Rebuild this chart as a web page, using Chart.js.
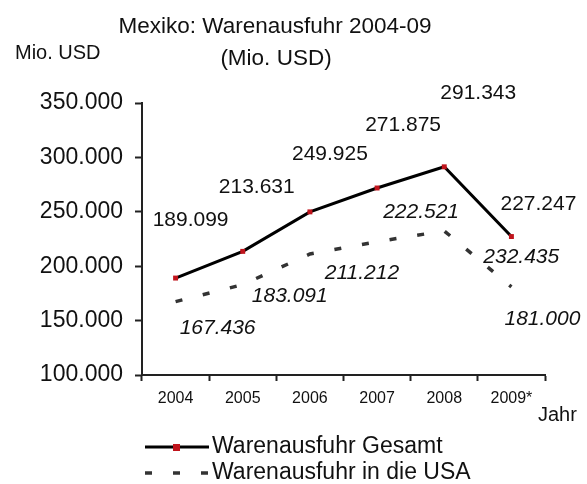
<!DOCTYPE html>
<html>
<head>
<meta charset="utf-8">
<script src="https://cdn.jsdelivr.net/npm/chart.js@4.4.0/dist/chart.umd.min.js"></script>
<style>
  html, body { margin: 0; padding: 0; background: #fff; }
</style>
</head>
<body>
<canvas id="myChart" width="587" height="484"></canvas>
<script>
'use strict';
const years = ['2004', '2005', '2006', '2007', '2008', '2009*'];
const gesamt = [189099, 213631, 249925, 271875, 291343, 227247];
const usa = [167436, 183091, 211212, 222521, 232435, 181000];
const yTicks = [100000, 150000, 200000, 250000, 300000, 350000];
const titleLines = ['Mexiko: Warenausfuhr 2004-09', '(Mio. USD)'];
const seriesNames = ['Warenausfuhr Gesamt', 'Warenausfuhr in die USA'];
const yUnit = 'Mio. USD';
const xUnit = 'Jahr';

// where the value labels sit relative to their point (px)
const gesamtLabelOffset = [[15, -58], [14, -64], [20, -58], [26, -63], [34, -74], [27, -32]];
const usaLabelOffset = [[42, 27], [47, 12], [52, 19], [44, -30], [77, 26], [31, 32]];

const FONT = '"Liberation Sans", Arial, sans-serif';
const RED = '#c0141c';

function fmt(v) {
  return String(v).replace(/\B(?=(\d{3})+(?!\d))/g, '.');
}

const textPlugin = {
  id: 'texts',
  afterDraw(chart) {
    const c = chart.ctx;
    c.save();
    c.fillStyle = '#111';
    c.textBaseline = 'middle';

    // titel
    c.textAlign = 'center';
    c.font = '22.5px ' + FONT;
    c.fillText(titleLines[0], 275, 27);
    c.fillText(titleLines[1], 276, 59);

    c.textAlign = 'left';
    c.font = '20px ' + FONT;
    c.fillText(yUnit, 15, 53);
    c.font = '20px ' + FONT;
    c.fillText(xUnit, 538, 415);

    // wertelabels
    c.textAlign = 'center';
    const m0 = chart.getDatasetMeta(0);
    c.font = '21px ' + FONT;
    m0.data.forEach((p, i) => {
      c.fillText(fmt(gesamt[i]), p.x + gesamtLabelOffset[i][0], p.y + gesamtLabelOffset[i][1]);
    });
    const m1 = chart.getDatasetMeta(1);
    c.font = 'italic 21px ' + FONT;
    m1.data.forEach((p, i) => {
      c.fillText(fmt(usa[i]), p.x + usaLabelOffset[i][0], p.y + usaLabelOffset[i][1]);
    });

    // legende
    const ds = chart.data.datasets;
    c.lineWidth = ds[0].borderWidth;
    c.strokeStyle = ds[0].borderColor;
    c.beginPath(); c.moveTo(145, 447); c.lineTo(209, 447); c.stroke();
    c.fillStyle = RED;
    c.fillRect(173, 444, 7, 7);

    c.lineWidth = ds[1].borderWidth;
    c.strokeStyle = ds[1].borderColor;
    c.setLineDash(ds[1].borderDash);
    c.beginPath(); c.moveTo(145, 473); c.lineTo(209, 473); c.stroke();
    c.setLineDash([]);

    c.fillStyle = '#111';
    c.textAlign = 'left';
    c.font = '23px ' + FONT;
    c.fillText(seriesNames[0], 212, 447);
    c.fillText(seriesNames[1], 212, 473);
    c.restore();
  }
};

const ctx = document.getElementById('myChart');
const myChart = new Chart(ctx, {
  type: 'line',
  data: {
    labels: years,
    datasets: [{
      label: seriesNames[0],
      data: gesamt,
      borderColor: '#000',
      borderWidth: 3,
      tension: 0,
      pointStyle: 'rect',
      pointRadius: 3.5,
      pointBackgroundColor: RED,
      pointBorderColor: RED,
      pointBorderWidth: 0
    }, {
      label: seriesNames[1],
      data: usa,
      borderColor: '#333',
      borderWidth: 3.5,
      borderDash: [7, 21],
      tension: 0,
      pointRadius: 0
    }]
  },
  options: {
    responsive: false,
    animation: false,
    devicePixelRatio: 1,
    layout: { padding: { top: 103, right: 42, bottom: 0, left: 0 } },
    plugins: {
      legend: { display: false },
      title: { display: false },
      tooltip: { enabled: false }
    },
    scales: {
      x: {
        offset: true,
        afterFit(s) { s.height = 109; },
        grid: {
          offset: true,
          drawOnChartArea: false,
          drawTicks: true,
          tickLength: 6,
          tickWidth: 2,
          tickColor: '#222'
        },
        border: { color: '#222', width: 2 },
        ticks: {
          color: '#111',
          padding: 8,
          maxRotation: 0,
          font: { family: FONT, size: 16 }
        }
      },
      y: {
        min: 100000,
        max: 350000,
        afterFit(s) { s.width = 142; },
        afterBuildTicks(s) { s.ticks = yTicks.map(v => ({ value: v })); },
        grid: {
          drawOnChartArea: false,
          drawTicks: true,
          tickLength: 7,
          tickWidth: 2,
          tickColor: '#222'
        },
        border: { color: '#222', width: 2 },
        ticks: {
          color: '#111',
          padding: 12,
          font: { family: FONT, size: 23 },
          callback: (v) => fmt(v)
        }
      }
    }
  },
  plugins: [textPlugin]
});
</script>
</body>
</html>
